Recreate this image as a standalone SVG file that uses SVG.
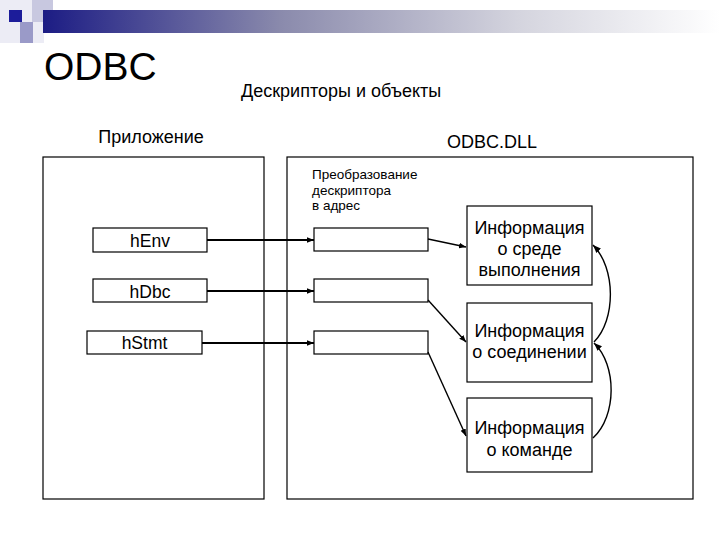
<svg xmlns="http://www.w3.org/2000/svg" width="720" height="540" viewBox="0 0 720 540">
<defs>
<linearGradient id="bar" x1="0" y1="0" x2="1" y2="0">
<stop offset="0" stop-color="#1c1c84"/>
<stop offset="0.35" stop-color="#8a8aac"/>
<stop offset="0.7" stop-color="#d4d4de"/>
<stop offset="1" stop-color="#ffffff"/>
</linearGradient>
<marker id="ah" viewBox="0 0 10 10" refX="10" refY="5" markerWidth="7" markerHeight="7" orient="auto" markerUnits="userSpaceOnUse">
<path d="M0,1 L10,5 L0,9 z" fill="#000"/>
</marker>
<marker id="ah2" viewBox="0 0 10 10" refX="10" refY="5" markerWidth="8" markerHeight="8" orient="auto" markerUnits="userSpaceOnUse">
<path d="M0,1 L10,5 L0,9 z" fill="#000"/>
</marker>
</defs>
<style>
.t{font-family:"Liberation Sans",Arial,sans-serif;fill:#000}
.box{fill:#fff;stroke:#000;stroke-width:1.2}
.panel{fill:#fff;stroke:#000;stroke-width:1.2}
.c{fill:none;stroke:#000;stroke-width:1.4}
.cs{fill:none;stroke:#000;stroke-width:2}
</style>
<rect width="720" height="540" fill="#fff"/>
<g id="header">
<rect x="0" y="0" width="44" height="43" fill="#ececf5"/>
<rect x="32" y="0" width="21" height="22" fill="#c8c8e0"/>
<rect x="20" y="22" width="13" height="21" fill="#9a9ac8"/>
<rect x="43" y="10" width="677" height="23" fill="url(#bar)"/>
<rect x="9" y="10" width="13" height="12" fill="#1c1c9a"/>
<text class="t" x="44" y="80" font-size="39">ODBC</text>
<text class="t" x="241" y="97" font-size="18">Дескрипторы и объекты</text>
</g>
<g id="app-panel">
<rect class="panel" x="43" y="157" width="221" height="342"/>
<text class="t" x="151" y="143" font-size="18" text-anchor="middle">Приложение</text>
</g>
<g id="dll-panel">
<rect class="panel" x="287" y="157" width="406" height="342"/>
<text class="t" x="492" y="148" font-size="18" text-anchor="middle">ODBC.DLL</text>
<text class="t" x="312" y="179" font-size="13.5">Преобразование</text>
<text class="t" x="312" y="195" font-size="13.5">дескриптора</text>
<text class="t" x="312" y="210" font-size="13.5">в адрес</text>
</g>
<g id="hEnv">
<rect class="box" x="93" y="228" width="114" height="24"/>
<text class="t" x="150" y="247" font-size="17.5" text-anchor="middle">hEnv</text>
</g>
<g id="hDbc">
<rect class="box" x="93" y="279" width="114" height="23"/>
<text class="t" x="150" y="298" font-size="17.5" text-anchor="middle">hDbc</text>
</g>
<g id="hStmt">
<rect class="box" x="87" y="331" width="115" height="23"/>
<text class="t" x="144.5" y="349" font-size="17.5" text-anchor="middle">hStmt</text>
</g>
<g id="map1"><rect class="box" x="314" y="228" width="114" height="23"/></g>
<g id="map2"><rect class="box" x="314" y="279" width="114" height="23"/></g>
<g id="map3"><rect class="box" x="314" y="331" width="114" height="23"/></g>
<g id="info-env">
<rect class="box" x="467" y="206" width="125" height="79"/>
<text class="t" x="529.5" y="234" font-size="18" text-anchor="middle">Информация</text>
<text class="t" x="529.5" y="255" font-size="18" text-anchor="middle">о среде</text>
<text class="t" x="529.5" y="276" font-size="18" text-anchor="middle">выполнения</text>
</g>
<g id="info-dbc">
<rect class="box" x="467" y="303" width="125" height="79"/>
<text class="t" x="529.5" y="337" font-size="18" text-anchor="middle">Информация</text>
<text class="t" x="529.5" y="358" font-size="18" text-anchor="middle">о соединении</text>
</g>
<g id="info-stmt">
<rect class="box" x="467" y="398" width="125" height="74"/>
<text class="t" x="529.5" y="434" font-size="18" text-anchor="middle">Информация</text>
<text class="t" x="529.5" y="456" font-size="18" text-anchor="middle">о команде</text>
</g>
<g id="connectors">
<line class="cs" x1="207" y1="240" x2="314" y2="240" marker-end="url(#ah)"/>
<line class="cs" x1="207" y1="291" x2="314" y2="291" marker-end="url(#ah)"/>
<line class="cs" x1="202" y1="343" x2="314" y2="343" marker-end="url(#ah)"/>
<line class="c" x1="428" y1="239" x2="466" y2="247" marker-end="url(#ah)"/>
<line class="c" x1="428" y1="300" x2="466" y2="342" marker-end="url(#ah)"/>
<line class="c" x1="428" y1="352" x2="466" y2="436" marker-end="url(#ah)"/>
<path class="c" d="M594,342 C616,320 616,268 593,245" marker-end="url(#ah2)"/>
<path class="c" d="M593,438 C617,416 617,365 594,343" marker-end="url(#ah2)"/>
</g>
</svg>
